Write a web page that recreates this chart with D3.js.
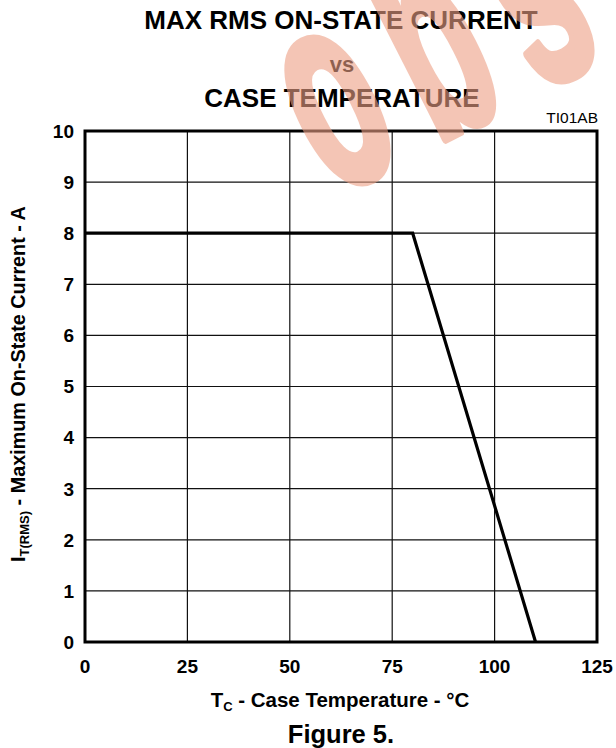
<!DOCTYPE html>
<html>
<head>
<meta charset="utf-8">
<script src="https://cdn.jsdelivr.net/npm/d3@7"></script>
<style>
  html, body { margin: 0; padding: 0; background: #fff; }
  svg text { font-family: "Liberation Sans", Arial, Helvetica, sans-serif; }
</style>
</head>
<body>
<svg id="chart" width="616" height="748"></svg>
<script>
// ---- data ----
const tempC = [0, 80, 110];            // case temperature, °C
const currentA = [8, 8, 0];            // max RMS on-state current, A
const xTicks = [0, 25, 50, 75, 100, 125];
const yTicks = [0, 1, 2, 3, 4, 5, 6, 7, 8, 9, 10];
const titleLines = ["MAX RMS ON-STATE CURRENT", "vs", "CASE TEMPERATURE"];
const figureLabel = "Figure 5.";
const refCode = "TI01AB";

const svg = d3.select("#chart");
const x = d3.scaleLinear().domain([0, 125]).range([85, 597]);
const y = d3.scaleLinear().domain([0, 10]).range([642, 131]);

// grid
const g = svg.append("g");
g.selectAll("line.vg").data(xTicks.slice(1, -1)).join("line")
  .attr("x1", d => x(d)).attr("x2", d => x(d))
  .attr("y1", y(0)).attr("y2", y(10))
  .attr("stroke", "#111").attr("stroke-width", 1.2);
g.selectAll("line.hg").data(yTicks.slice(1, -1)).join("line")
  .attr("x1", x(0)).attr("x2", x(125))
  .attr("y1", d => y(d)).attr("y2", d => y(d))
  .attr("stroke", "#111").attr("stroke-width", 1.2);

// frame
g.append("rect").attr("x", x(0)).attr("y", y(10))
  .attr("width", x(125) - x(0)).attr("height", y(0) - y(10))
  .attr("fill", "none").attr("stroke", "#000").attr("stroke-width", 3);

// data line
const pts = tempC.map((t, i) => [t, currentA[i]]);
g.append("path").datum(pts)
  .attr("d", d3.line().x(d => x(d[0])).y(d => y(d[1])))
  .attr("fill", "none").attr("stroke", "#000").attr("stroke-width", 3.2)
  .attr("stroke-linejoin", "miter");

// axes labels
g.selectAll("text.yt").data(yTicks).join("text")
  .attr("x", 74).attr("y", d => y(d)).attr("dy", "0.36em")
  .attr("text-anchor", "end").attr("font-weight", "bold").attr("font-size", 19)
  .text(d => d);
g.selectAll("text.xt").data(xTicks).join("text")
  .attr("x", d => x(d)).attr("y", 673)
  .attr("text-anchor", "middle").attr("font-weight", "bold").attr("font-size", 19)
  .text(d => d);

// x axis title
const xt = svg.append("text").attr("x", 340).attr("y", 707)
  .attr("text-anchor", "middle").attr("font-weight", "bold").attr("font-size", 20.5);
xt.append("tspan").text("T");
xt.append("tspan").attr("font-size", 13).attr("dy", 4).text("C");
xt.append("tspan").attr("dy", -4).text(" - Case Temperature - °C");

// y axis title
const yt = svg.append("text")
  .attr("transform", "translate(25,384) rotate(-90)")
  .attr("text-anchor", "middle").attr("font-weight", "bold").attr("font-size", 19.8);
yt.append("tspan").text("I");
yt.append("tspan").attr("font-size", 13).attr("dy", 4).text("T(RMS)");
yt.append("tspan").attr("dy", -4).text(" - Maximum On-State Current - A");

// titles
svg.append("text").attr("x", 341).attr("y", 29).attr("text-anchor", "middle")
  .attr("font-weight", "bold").attr("font-size", 26).text(titleLines[0]);
svg.append("text").attr("x", 342).attr("y", 72).attr("text-anchor", "middle")
  .attr("font-weight", "bold").attr("font-size", 22).text(titleLines[1]);
svg.append("text").attr("x", 342).attr("y", 107).attr("text-anchor", "middle")
  .attr("font-weight", "bold").attr("font-size", 26).text(titleLines[2]);
svg.append("text").attr("x", 598).attr("y", 123).attr("text-anchor", "end")
  .attr("font-size", 15.5).text(refCode);
svg.append("text").attr("x", 341).attr("y", 743).attr("text-anchor", "middle")
  .attr("font-weight", "bold").attr("font-size", 25.5).text(figureLabel);

// watermark
svg.append("text")
  .attr("transform", "translate(333,196) rotate(-27) scale(0.5,1)")
  .attr("font-family", "DejaVu Sans, sans-serif")
  .attr("font-weight", "bold")
  .attr("font-size", 280)
  .attr("letter-spacing", 60)
  .attr("fill", "rgb(237,160,133)")
  .attr("stroke", "rgb(237,160,133)").attr("stroke-width", 10)
  .attr("stroke-linejoin", "round")
  .attr("opacity", 0.6)
  .text("obs");
</script>
</body>
</html>
